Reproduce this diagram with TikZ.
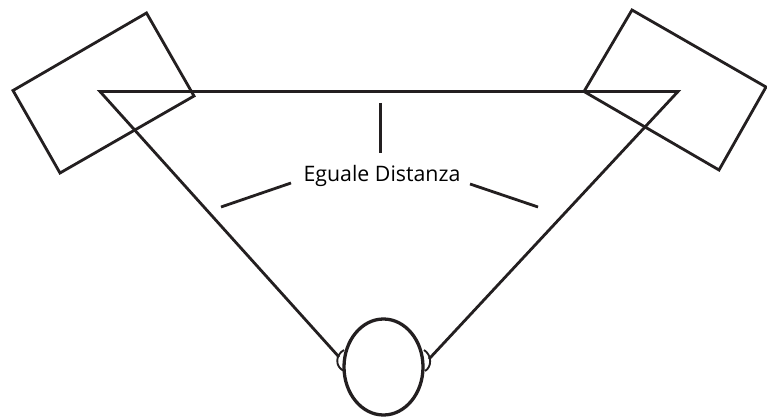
\documentclass[tikz,border=0pt]{standalone}
\usepackage{fontspec}
\setmainfont{Open Sans}
\usetikzlibrary{positioning,calc,shapes.geometric}
\definecolor{inkblack}{RGB}{35,31,32}
\begin{document}
\begin{tikzpicture}[
      x=0.03cm, y=0.03cm,
      font=\fontsize{18.2pt}{22pt}\selectfont,
      outline/.style={draw=inkblack, line width=2.4pt, line join=miter},
      earline/.style={draw=inkblack, line width=1.6pt},
      headshape/.style={ellipse, draw=inkblack, line width=2.8pt, fill=white,
        inner sep=0pt, minimum width=2.37cm, minimum height=2.88cm}
    ]
    \useasboundingbox (0,0) rectangle (767,417);
    % ---------------- listening triangle ----------------
    \coordinate (apexL) at (100,325.5);
    \coordinate (apexR) at (678,325.5);
    \coordinate (earL) at (339,60);
    \coordinate (earR) at (429,58);
    \draw[outline] (earL) -- (apexL) -- (apexR) -- (earR);
    % ---------------- speakers ----------------
    \draw[outline] (146.5,404) -- (13,326.5) -- (60,244) -- (194,321) -- cycle;
    \draw[outline] (632,407) -- (766,330) -- (719,247) -- (584,325.5) -- cycle;
    % ---------------- listener ----------------
    \draw[earline] (344,67) .. controls (335,62) and (335,50) .. (344,46);
    \draw[earline] (424,67) .. controls (432,62) and (432,50) .. (425,46);
    \node[headshape] (head) at (383.5,50) {};
    % ---------------- label and its marks ----------------
    \node (lbl) at (382,241.5) {Eguale Distanza};
    \coordinate (markT) at (380.5,314);
    \coordinate (markB) at (380.5,264);
    \coordinate (markLa) at (291,234);
    \coordinate (markLb) at (221,210);
    \coordinate (markRa) at (470,233);
    \coordinate (markRb) at (538,210);
    \draw[outline] (markT) -- (markB);
    \draw[outline] (markLa) -- (markLb);
    \draw[outline] (markRa) -- (markRb);
  \end{tikzpicture}
\end{document}
